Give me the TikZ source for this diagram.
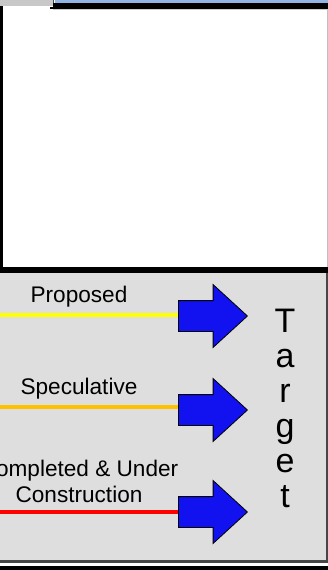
\documentclass[tikz,border=0pt]{standalone}
\usepackage{fontspec}
\setmainfont{Liberation Sans}
\usetikzlibrary{shapes.arrows}
\definecolor{panelgray}{RGB}{222,222,222}
\definecolor{tabgray}{RGB}{200,200,200}
\definecolor{topblue}{RGB}{146,180,228}
\definecolor{edgegray}{RGB}{70,70,70}
\definecolor{arrowblue}{RGB}{18,18,240}
\definecolor{propyellow}{RGB}{255,255,0}
\definecolor{specorange}{RGB}{255,192,0}
\definecolor{compred}{RGB}{255,0,0}
\tikzset{
  bigarrow/.style={single arrow, draw=black, line width=0.8pt, fill=arrowblue,
    inner xsep=0pt, inner ysep=15pt, minimum height=69pt,
    single arrow head extend=16pt, single arrow tip angle=85, anchor=tip},
  leglabel/.style={font=\fontsize{22.6}{26}\selectfont, align=center, inner sep=0pt},
  legline/.style={line width=3.2pt},
}
\begin{document}
\begin{tikzpicture}[x=1pt,y=-1pt]
\useasboundingbox (0,0) rectangle (328,570);
% top strip
\fill[tabgray] (0,0) rectangle (53,5.5);
\fill[edgegray] (52.5,0) rectangle (54,6);
\fill[topblue] (55,0) rectangle (328,3);
\fill[black] (53,3) rectangle (328,8.5);
\fill[black] (50,6.5) rectangle (53,8.5);
\fill[gray!40] (53,8.5) rectangle (328,9.5);
% white box
\fill[white] (2.5,9.5) rectangle (326.5,267);
\fill[black] (0,6) rectangle (2.5,268);
\fill[gray!50] (326.5,9.5) rectangle (328,267);
\fill[black] (0,267) rectangle (328,272.5);
% legend panel
\fill[panelgray] (0,272.5) rectangle (325.5,560);
\fill[edgegray] (325.5,272.5) rectangle (328,562.5);
\fill[edgegray] (0,560) rectangle (328,562.5);
\fill[white] (0,562.5) rectangle (328,566);
\fill[black] (0,566) rectangle (328,570);
% line starts
\coordinate (s1) at (0,315);
\coordinate (s2) at (0,407);
\coordinate (s3) at (0,512);
% arrows
\node[bigarrow] (a1) at (248,316) {};
\node[bigarrow] (a2) at (248,410) {};
\node[bigarrow] (a3) at (248,512) {};
\draw[legline, propyellow] (s1) -- (a1.tail |- s1);
\draw[legline, specorange] (s2) -- (a2.tail |- s2);
\draw[legline, compred] (s3) -- (a3.tail |- s3);
% labels
\node[leglabel] (l1) at (79,297) {Proposed};
\node[leglabel] (l2) at (79,389) {Speculative};
\node[leglabel] (l3) at (79,481) {Completed \& Under\\Construction};
% target
\node[font=\fontsize{34}{35}\selectfont, align=center, inner sep=0pt, anchor=north] (tg) at (285,309) {T\\a\\r\\g\\e\\t};
\end{tikzpicture}
\end{document}
